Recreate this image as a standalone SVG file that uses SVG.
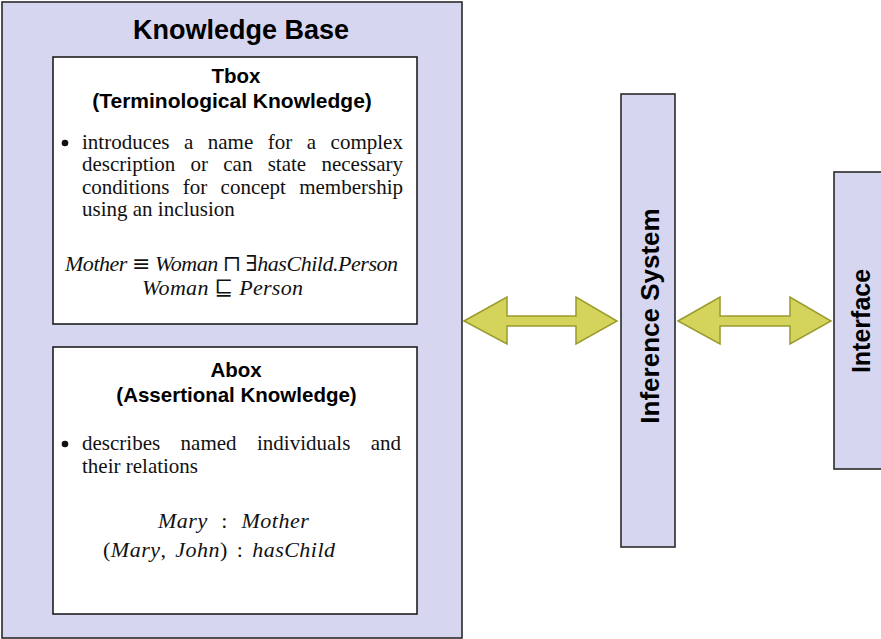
<svg xmlns="http://www.w3.org/2000/svg" width="881" height="639" viewBox="0 0 881 639">
  <style>
    .panel { fill: #d6d6f0; stroke: #2a2a2a; stroke-width: 1.6; }
    .card { fill: #ffffff; stroke: #1e1e1e; stroke-width: 1.6; }
    .title { font-family: "Liberation Sans", Arial, sans-serif; font-weight: bold; fill: #000; text-anchor: middle; }
    .body { font-family: "Liberation Serif", "DejaVu Serif", serif; font-size: 21px; fill: #111; }
    .math { font-family: "Liberation Serif", "DejaVu Serif", serif; font-size: 22px; fill: #111; font-style: italic; }
    .sym { font-style: normal; font-family: "DejaVu Serif", "Liberation Serif", serif; }
    .up { font-style: normal; }
    .arrow { fill: #d4d45c; stroke: #9a9a2e; stroke-width: 1.5; stroke-linejoin: miter; }
  </style>

  <!-- Knowledge base container -->
  <g id="knowledge-base">
    <rect class="panel" x="2" y="2" width="460" height="636"/>
    <text class="title" x="241" y="39" font-size="27">Knowledge Base</text>
  </g>

  <!-- Terminological box: justified bullet text uses per-line word spacing -->
  <g id="tbox">
    <rect class="card" x="53" y="57" width="364" height="267"/>
    <text class="title" x="236" y="83" font-size="20.5">Tbox</text>
    <text class="title" x="232" y="108" font-size="21">(Terminological Knowledge)</text>
    <circle cx="65" cy="143" r="3.3" fill="#111"/>
    <text class="body" x="82" y="149" word-spacing="9.25">introduces a name for a complex</text>
    <text class="body" x="82" y="171" word-spacing="10">description or can state necessary</text>
    <text class="body" x="82" y="194" word-spacing="8.05">conditions for concept membership</text>
    <text class="body" x="82" y="216">using an inclusion</text>
    <text class="math" x="65" y="271" textLength="333" lengthAdjust="spacing">Mother <tspan class="sym">≡</tspan> Woman <tspan class="sym">⊓</tspan> <tspan class="sym">∃</tspan>hasChild.Person</text>
    <text class="math" x="142" y="295" textLength="161" lengthAdjust="spacing">Woman <tspan class="sym">⊑</tspan> Person</text>
  </g>

  <!-- Assertional box -->
  <g id="abox">
    <rect class="card" x="53" y="347" width="364" height="267"/>
    <text class="title" x="236" y="377" font-size="20.5">Abox</text>
    <text class="title" x="236.5" y="402" font-size="20.5">(Assertional Knowledge)</text>
    <circle cx="65" cy="444" r="3.3" fill="#111"/>
    <text class="body" x="82" y="450" word-spacing="15.2">describes named individuals and</text>
    <text class="body" x="82" y="473">their relations</text>
    <text class="math" x="158" y="528" font-size="23" word-spacing="7.6" letter-spacing="0.5">Mary <tspan class="up">:</tspan> Mother</text>
    <text class="math" x="103" y="557" font-size="23" word-spacing="2.8" letter-spacing="0.5"><tspan class="up">(</tspan>Mary<tspan class="up">,</tspan> John<tspan class="up">)</tspan> <tspan class="up">:</tspan> hasChild</text>
  </g>

  <!-- Inference system -->
  <g id="inference-system">
    <rect class="panel" x="621" y="94" width="54" height="453"/>
    <text class="title" font-size="26" transform="translate(659,316) rotate(-90)">Inference System</text>
  </g>

  <!-- Interface -->
  <g id="interface">
    <rect class="panel" x="834" y="172" width="60" height="297"/>
    <text class="title" font-size="25" transform="translate(870,321) rotate(-90)">Interface</text>
  </g>

  <!-- Two-way connectors -->
  <g id="connectors">
    <polygon class="arrow" points="464,321 507,297 507,316 576,316 576,297 617,321 576,344 576,326 507,326 507,344"/>
    <polygon class="arrow" points="678,321 720,297 720,316 790,316 790,297 831,321 790,344 790,326 720,326 720,344"/>
  </g>
</svg>
